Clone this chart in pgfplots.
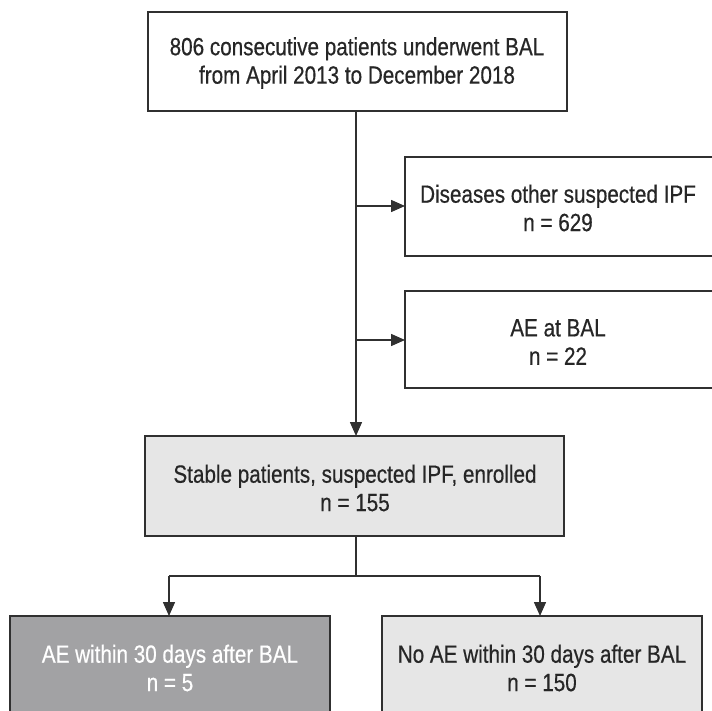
\documentclass[border=0pt]{standalone}
\usepackage{fontspec}
\setmainfont[FakeStretch=0.83,FakeBold=0.5]{Liberation Sans}
\usepackage{pgfplots}
\pgfplotsset{compat=1.18}
\usetikzlibrary{arrows.meta}
\definecolor{lightbox}{HTML}{E6E6E6}
\definecolor{darkbox}{HTML}{A2A2A4}
\definecolor{edge}{HTML}{303030}
\begin{document}
\begin{tikzpicture}
\begin{axis}[
  width=712bp, height=711bp, scale only axis,
  xmin=0, xmax=712, ymin=0, ymax=711, y dir=reverse,
  hide axis, clip=true,
  every axis plot/.append style={line width=1.5pt, draw=edge},
  nodes={font=\fontsize{25}{28.5}\selectfont, align=center, text=black!85},
]
% boxes (x,y in pixels, y down)
\addplot [fill=white] coordinates {(148,12) (567,12) (567,111) (148,111)} -- cycle;
\addplot [fill=white] coordinates {(405,157) (730,157) (730,256) (405,256)} -- cycle;
\addplot [fill=white] coordinates {(405,291) (730,291) (730,388) (405,388)} -- cycle;
\addplot [fill=lightbox] coordinates {(145,436) (564,436) (564,536) (145,536)} -- cycle;
\addplot [fill=darkbox] coordinates {(10,616) (330,616) (330,730) (10,730)} -- cycle;
\addplot [fill=lightbox] coordinates {(382,616) (702,616) (702,730) (382,730)} -- cycle;
% connectors
\addplot [-{Triangle[length=14pt,width=12pt]}] coordinates {(356,111) (356,436)};
\addplot [-{Triangle[length=14pt,width=12pt]}] coordinates {(356,206) (405,206)};
\addplot [-{Triangle[length=14pt,width=12pt]}] coordinates {(356,340) (405,340)};
\addplot [] coordinates {(356,536) (356,576)};
\addplot [-{Triangle[length=14pt,width=12pt]}] coordinates {(169,576) (169,616)};
\addplot [] coordinates {(169,576) (540,576)};
\addplot [-{Triangle[length=14pt,width=12pt]}] coordinates {(540,576) (540,616)};
% labels
\node at (axis cs:357,63) {806 consecutive patients underwent BAL\\from April 2013 to December 2018};
\node at (axis cs:558,208) {Diseases other suspected IPF\\n = 629};
\node at (axis cs:558,342) {AE at BAL\\n = 22};
\node at (axis cs:355,488) {Stable patients, suspected IPF, enrolled\\n = 155};
\node[text=white] at (axis cs:170,668) {AE within 30 days after BAL\\n = 5};
\node at (axis cs:542,668) {No AE within 30 days after BAL\\n = 150};
\end{axis}
\pgfresetboundingbox
\path (current axis.south west) rectangle (current axis.north east);
\end{tikzpicture}
\end{document}
